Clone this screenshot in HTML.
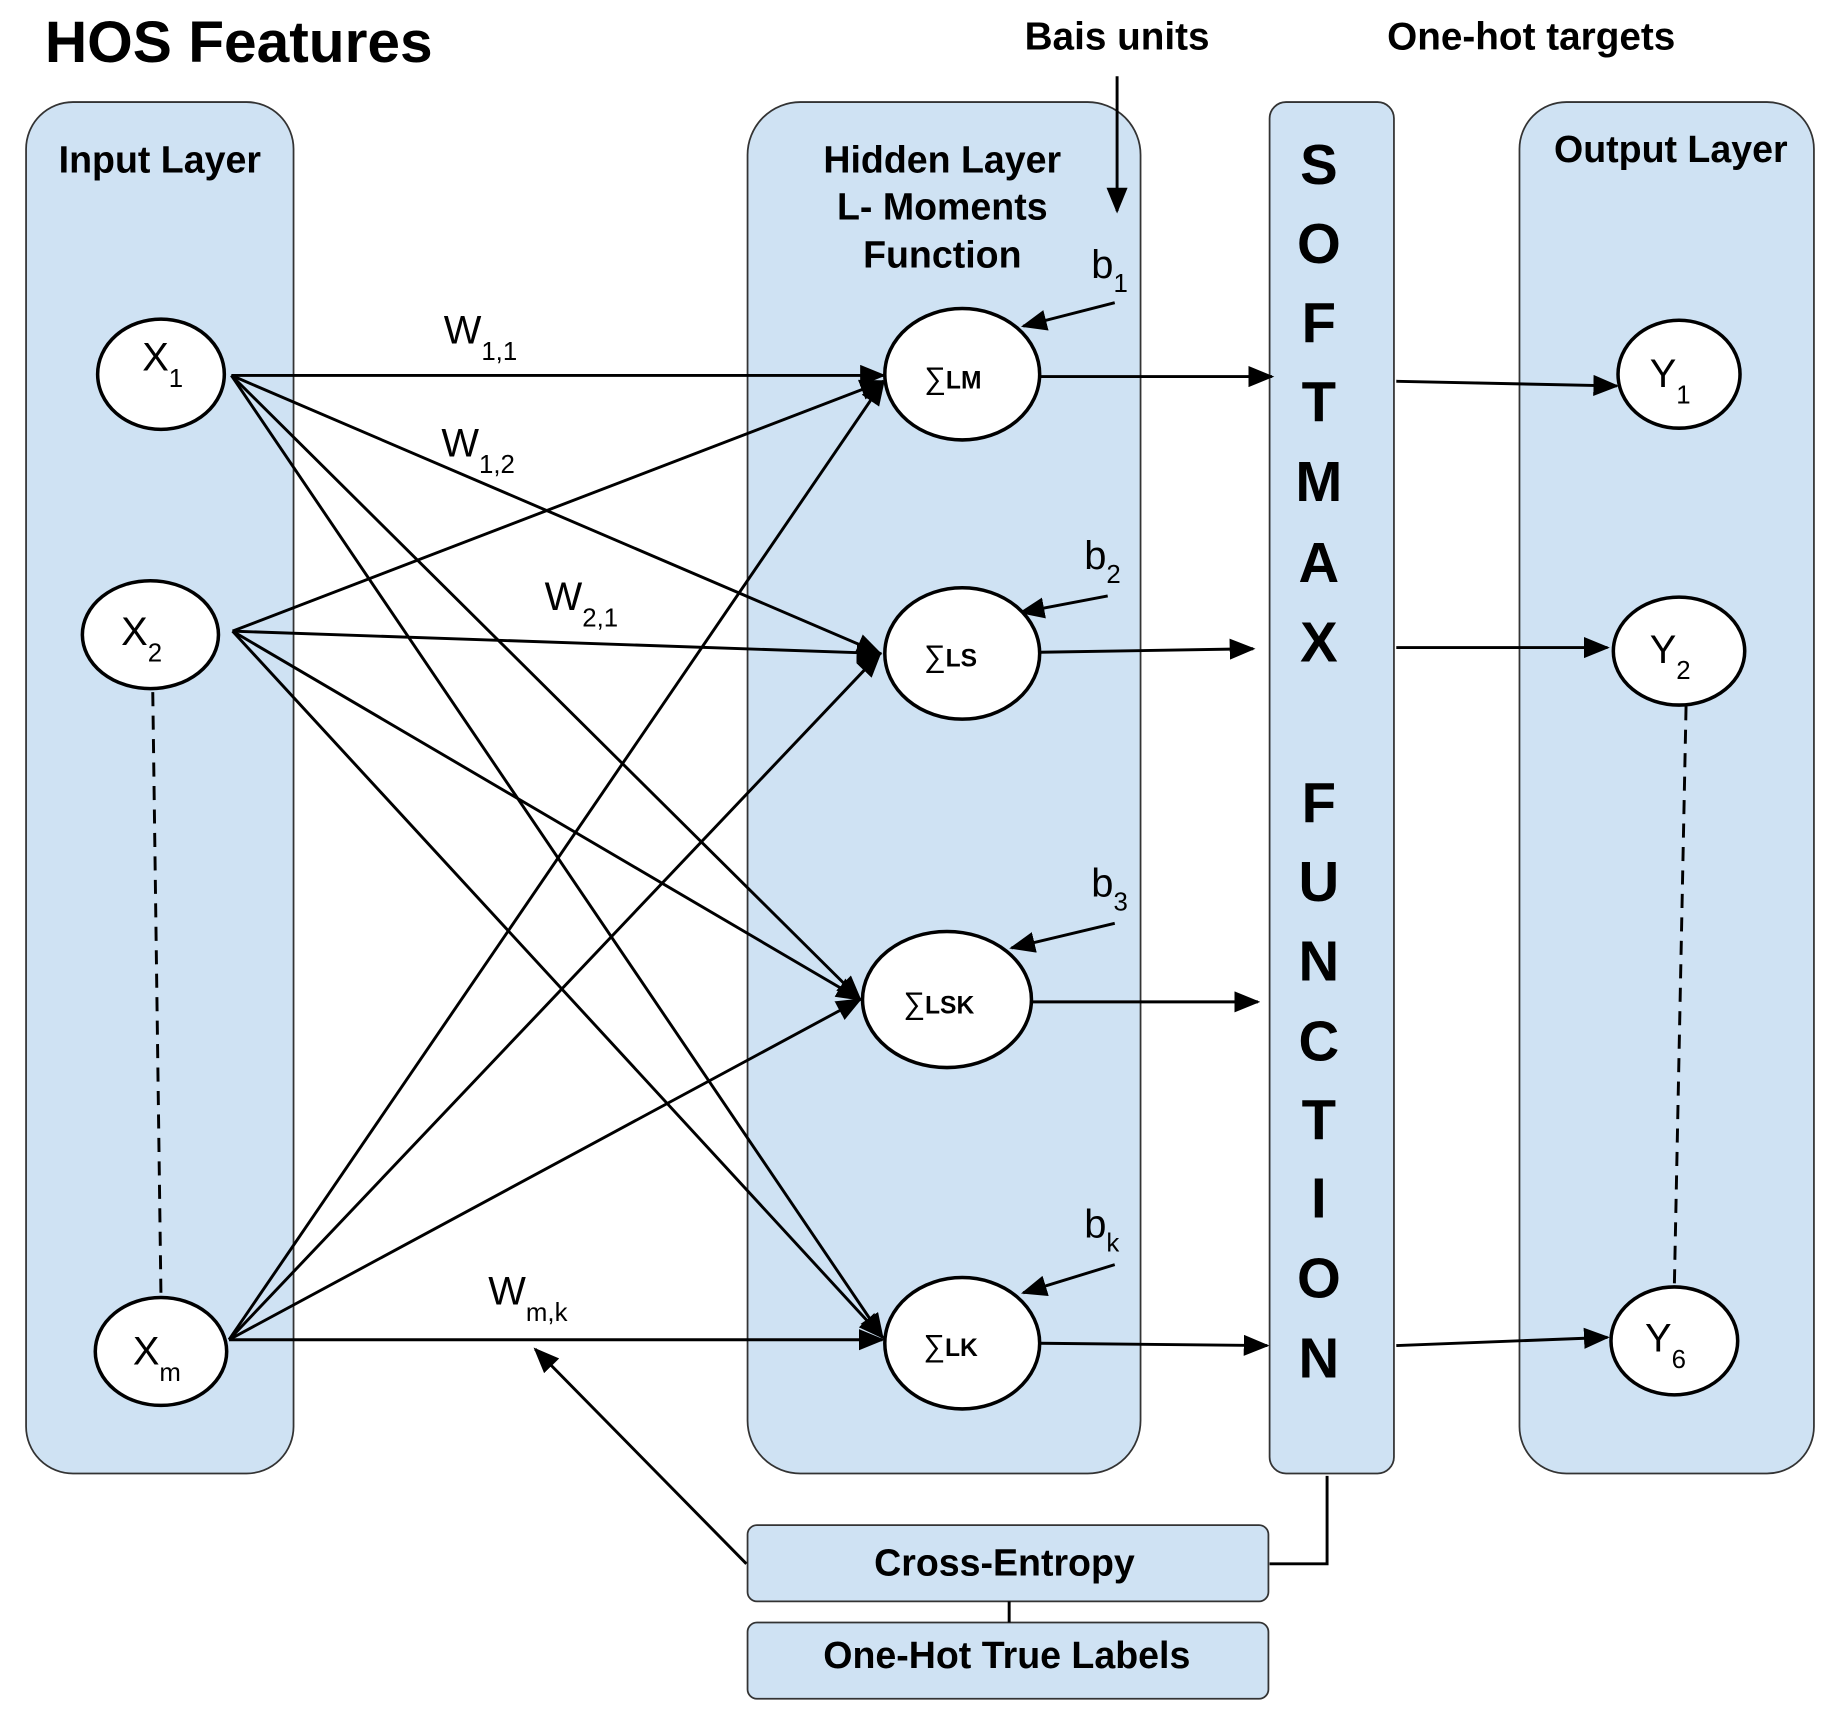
<!DOCTYPE html>
<html><head><meta charset="utf-8"><style>
html,body{margin:0;padding:0;background:#fff;}
svg{display:block;}
text{font-family:"Liberation Sans",sans-serif;}
.b{font-weight:bold;}
</style></head><body>
<svg width="1840" height="1721" viewBox="0 0 1568 1467" xmlns="http://www.w3.org/2000/svg">
<defs>
<marker id="A" markerWidth="22" markerHeight="18" refX="20" refY="9" orient="auto" markerUnits="userSpaceOnUse">
<path d="M0,0 L22,9 L0,18 z" fill="#000"/></marker>
</defs>
<text x="38" y="53" font-size="50" class="b" fill="#000">HOS Features</text>
<text x="952" y="42" font-size="33" class="b" text-anchor="middle">Bais units</text>
<text x="1305" y="42" font-size="33" class="b" text-anchor="middle">One-hot targets</text>

<g fill="#cfe2f3" stroke="#333" stroke-width="1.5">
<rect x="22" y="87" width="228" height="1169" rx="40"/>
<rect x="637" y="87" width="335" height="1169" rx="45"/>
<rect x="1082" y="87" width="106" height="1169" rx="14"/>
<rect x="1295" y="87" width="251" height="1169" rx="40"/>
<rect x="637" y="1300" width="444" height="65" rx="8"/>
<rect x="637" y="1383" width="444" height="65" rx="8"/>
</g>

<text x="136" y="147" font-size="32" class="b" text-anchor="middle">Input Layer</text>
<text x="803" y="147" font-size="32" class="b" text-anchor="middle">Hidden Layer</text>
<text x="803" y="187" font-size="32" class="b" text-anchor="middle">L- Moments</text>
<text x="803" y="228" font-size="32" class="b" text-anchor="middle">Function</text>
<text x="1424" y="138" font-size="32" class="b" text-anchor="middle">Output Layer</text>
<text x="856" y="1343" font-size="32" class="b" text-anchor="middle">Cross-Entropy</text>
<text x="858" y="1422" font-size="32" class="b" text-anchor="middle">One-Hot True Labels</text>

<g font-size="48" class="b" text-anchor="middle">
<text x="1124" y="157">S</text><text x="1124" y="224">O</text><text x="1124" y="292">F</text><text x="1124" y="359">T</text><text x="1124" y="427">M</text><text x="1124" y="496">A</text><text x="1124" y="564">X</text>
<text x="1124" y="701">F</text><text x="1124" y="768">U</text><text x="1124" y="836">N</text><text x="1124" y="904">C</text><text x="1124" y="971">T</text><text x="1124" y="1038">I</text><text x="1124" y="1106">O</text><text x="1124" y="1174">N</text>
</g>

<g stroke="#000" stroke-width="2.5" fill="none">
<line x1="197" y1="320" x2="753" y2="320" marker-end="url(#A)"/>
<line x1="197" y1="320" x2="750" y2="557" marker-end="url(#A)"/>
<line x1="197" y1="320" x2="733" y2="852" marker-end="url(#A)"/>
<line x1="197" y1="320" x2="752" y2="1140" marker-end="url(#A)"/>
<line x1="198" y1="538" x2="753" y2="325" marker-end="url(#A)"/>
<line x1="198" y1="538" x2="750" y2="557" marker-end="url(#A)"/>
<line x1="198" y1="538" x2="733" y2="852" marker-end="url(#A)"/>
<line x1="198" y1="538" x2="752" y2="1140" marker-end="url(#A)"/>
<line x1="195" y1="1142" x2="753" y2="325" marker-end="url(#A)"/>
<line x1="195" y1="1142" x2="750" y2="557" marker-end="url(#A)"/>
<line x1="195" y1="1142" x2="733" y2="852" marker-end="url(#A)"/>
<line x1="195" y1="1142" x2="752" y2="1142" marker-end="url(#A)"/>
<line x1="886" y1="321" x2="1084" y2="321" marker-end="url(#A)"/>
<line x1="886" y1="556" x2="1068" y2="553" marker-end="url(#A)"/>
<line x1="880" y1="854" x2="1072" y2="854" marker-end="url(#A)"/>
<line x1="886" y1="1145" x2="1080" y2="1147" marker-end="url(#A)"/>
<line x1="1190" y1="325" x2="1378" y2="329" marker-end="url(#A)"/>
<line x1="1190" y1="552" x2="1370" y2="552" marker-end="url(#A)"/>
<line x1="1190" y1="1147" x2="1370" y2="1140" marker-end="url(#A)"/>
<line x1="950" y1="258" x2="872" y2="278" marker-end="url(#A)"/>
<line x1="944" y1="508" x2="870" y2="522" marker-end="url(#A)"/>
<line x1="950" y1="787" x2="862" y2="808" marker-end="url(#A)"/>
<line x1="950" y1="1078" x2="872" y2="1102" marker-end="url(#A)"/>
<line x1="952" y1="65" x2="952" y2="180" marker-end="url(#A)"/>
<line x1="636" y1="1333" x2="456" y2="1150" marker-end="url(#A)"/>
<polyline points="1131,1258 1131,1333 1082,1333"/>
<line x1="860" y1="1365" x2="860" y2="1383"/>
<line x1="130" y1="590" x2="137" y2="1105" stroke-dasharray="12,8"/>
<line x1="1437" y1="602" x2="1427" y2="1097" stroke-dasharray="12,8"/>
</g>

<g fill="#fff" stroke="#000" stroke-width="3">
<ellipse cx="137" cy="319" rx="54" ry="47"/>
<ellipse cx="128" cy="541" rx="58" ry="46"/>
<ellipse cx="137" cy="1152" rx="56" ry="46"/>
<ellipse cx="820" cy="319" rx="66" ry="56"/>
<ellipse cx="820" cy="557" rx="66" ry="56"/>
<ellipse cx="807" cy="852" rx="72" ry="58"/>
<ellipse cx="820" cy="1145" rx="66" ry="56"/>
<ellipse cx="1431" cy="319" rx="52" ry="46"/>
<ellipse cx="1431" cy="555" rx="56" ry="46"/>
<ellipse cx="1427" cy="1143" rx="54" ry="46"/>
</g>

<g font-size="34">
<text x="121" y="316">X<tspan font-size="22" dy="14">1</tspan></text>
<text x="103" y="550">X<tspan font-size="22" dy="14">2</tspan></text>
<text x="113" y="1163">X<tspan font-size="22" dy="14">m</tspan></text>
<text x="1406" y="330">Y<tspan font-size="22" dy="14">1</tspan></text>
<text x="1406" y="565">Y<tspan font-size="22" dy="14">2</tspan></text>
<text x="1402" y="1152">Y<tspan font-size="22" dy="14">6</tspan></text>
<text x="378" y="293">W<tspan font-size="22" dy="14">1,1</tspan></text>
<text x="376" y="389">W<tspan font-size="22" dy="14">1,2</tspan></text>
<text x="464" y="520">W<tspan font-size="22" dy="14">2,1</tspan></text>
<text x="416" y="1112">W<tspan font-size="22" dy="14">m,k</tspan></text>
<text x="930" y="237">b<tspan font-size="22" dy="12">1</tspan></text>
<text x="924" y="485">b<tspan font-size="22" dy="12">2</tspan></text>
<text x="930" y="764">b<tspan font-size="22" dy="12">3</tspan></text>
<text x="924" y="1055">b<tspan font-size="22" dy="12">k</tspan></text>
</g>
<g font-size="26" text-anchor="middle">
<text x="812" y="331">∑<tspan class="b" font-size="21">LM</tspan></text>
<text x="810" y="568">∑<tspan class="b" font-size="21">LS</tspan></text>
<text x="800" y="864">∑<tspan class="b" font-size="21">LSK</tspan></text>
<text x="810" y="1156">∑<tspan class="b" font-size="21">LK</tspan></text>
</g>
</svg>
</body></html>
